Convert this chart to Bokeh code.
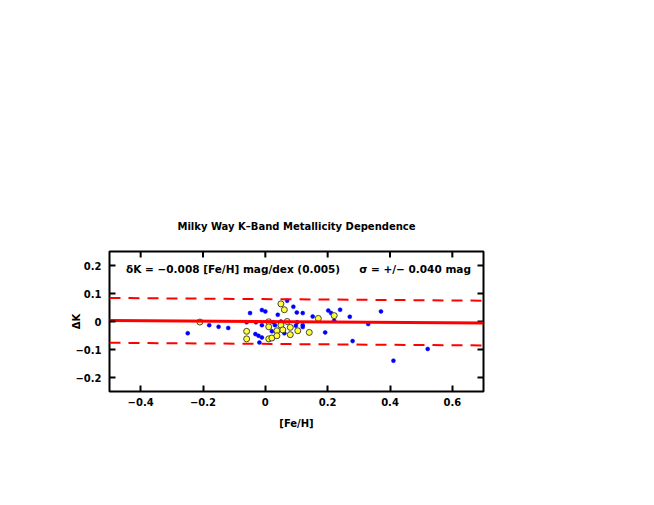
import numpy as np
from bokeh.plotting import figure
from bokeh.models import Range1d, FixedTicker, Label
from bokeh.embed import file_html
from bokeh.resources import INLINE

# ---- data ----
blue_feh = [-0.249, -0.180, -0.150, -0.119, -0.049, -0.011, 0.000, 0.040, 0.070, 0.090,
            0.101, 0.120, 0.152, 0.202, 0.211, 0.240, 0.271, 0.221, 0.330, 0.371,
            0.280, 0.192, 0.411, 0.521, -0.060, -0.011, 0.026, 0.031, 0.050, 0.098,
            0.120, 0.120, -0.032, -0.022, -0.011, 0.021, 0.082, 0.061, -0.019, 0.102,
            -0.030]
blue_dk = [-0.042, -0.013, -0.019, -0.023, 0.030, 0.041, 0.036, 0.024, 0.074, 0.053,
           0.032, 0.030, 0.018, 0.039, 0.030, 0.042, 0.017, 0.003, -0.009, 0.036,
           -0.070, -0.039, -0.140, -0.098, -0.003, -0.013, -0.003, -0.013, 0.000, -0.015,
           -0.013, -0.020, -0.045, -0.051, -0.057, -0.035, -0.045, -0.042, -0.075, -0.003,
           -0.003]

yellow_feh = [-0.210, 0.050, 0.061, 0.011, 0.011, 0.070, 0.050, 0.037, 0.056, 0.080,
              0.104, 0.141, 0.170, 0.221, -0.060, -0.060, 0.011, 0.021, 0.037, 0.080]
yellow_dk = [-0.002, 0.063, 0.042, -0.001, -0.019, 0.000, -0.013, -0.033, -0.030, -0.021,
             -0.033, -0.039, 0.011, 0.021, -0.035, -0.062, -0.062, -0.059, -0.051, -0.047]

slope = -0.008
intercept = 0.0
sigma = 0.040

x_ticks = [-0.4, -0.2, 0.0, 0.2, 0.4, 0.6]
x_tick_labels = ["\u22120.4", "\u22120.2", "0", "0.2", "0.4", "0.6"]
y_ticks = [-0.2, -0.1, 0.0, 0.1, 0.2]
y_tick_labels = ["\u22120.2", "\u22120.1", "0", "0.1", "0.2"]

title_text = "Milky Way K\u2013Band Metallicity Dependence"
fit_text = "\u03b4K = \u22120.008 [Fe/H] mag/dex  (0.005)"
sigma_text = "\u03c3 = +/\u2212 0.040 mag"
x_label = "[Fe/H]"
y_label = "\u0394K"

FONT = "DejaVu Sans"
FS = "10px"

p = figure(width=640, height=489,
           x_range=Range1d(-0.5, 0.7), y_range=Range1d(-0.25, 0.25),
           output_backend="svg", toolbar_location=None,
           min_border_left=109, min_border_right=157,
           min_border_top=251, min_border_bottom=98)
p.xgrid.visible = False
p.ygrid.visible = False
p.outline_line_color = "black"
p.outline_line_width = 2
p.outline_line_alpha = 1.0
p.background_fill_color = "white"
p.border_fill_color = "white"

p.title.text = title_text
p.title.align = "center"
p.title.text_font = FONT
p.title.text_font_size = FS
p.title.text_font_style = "bold"
p.title.text_color = "black"
p.title.standoff = 40

def style_axis(ax, ticks, labels, standoff):
    ax.ticker = FixedTicker(ticks=ticks)
    ax.major_label_overrides = {t: l for t, l in zip(ticks, labels)}
    ax.axis_line_color = None
    ax.major_tick_in = 6
    ax.major_tick_out = 0
    ax.major_tick_line_width = 2
    ax.major_tick_line_color = "black"
    ax.minor_tick_line_color = None
    ax.major_label_text_font = FONT
    ax.major_label_text_font_style = "bold"
    ax.major_label_text_font_size = FS
    ax.major_label_text_color = "black"
    ax.major_label_standoff = standoff
    ax.axis_label_text_font = FONT
    ax.axis_label_text_font_style = "bold"
    ax.axis_label_text_font_size = FS
    ax.axis_label_text_color = "black"

style_axis(p.xaxis[0], x_ticks, x_tick_labels, 6)
style_axis(p.yaxis[0], y_ticks, y_tick_labels, 8)
p.xaxis[0].axis_label = x_label
p.xaxis[0].axis_label_standoff = 9
p.yaxis[0].axis_label = y_label
p.yaxis[0].axis_label_standoff = -10

# mirrored inward ticks on the top and right edges
x0, x1 = p.x_range.start, p.x_range.end
y0, y1 = p.y_range.start, p.y_range.end
p.ray(x=x_ticks, y=[y1] * len(x_ticks), length=6, length_units="screen",
      angle=-np.pi / 2, line_color="black", line_width=2)
p.ray(x=[x1] * len(y_ticks), y=y_ticks, length=6, length_units="screen",
      angle=np.pi, line_color="black", line_width=2)

# points
p.scatter(blue_feh, blue_dk, size=4, fill_color="#0000ff", line_color="#0000ff", line_width=0.5)
p.scatter(yellow_feh, yellow_dk, size=6, fill_color="#ffff33", line_color="#444444", line_width=1)

# fit lines
x_fit = np.array([x0, x1])
y_fit = slope * x_fit + intercept
p.line(x_fit, y_fit, line_color="#ff0000", line_width=3)
p.line(x_fit, y_fit + 2 * sigma, line_color="#ff0000", line_width=2, line_dash="11 8")
p.line(x_fit, y_fit - 2 * sigma, line_color="#ff0000", line_width=2, line_dash="11 8")

def lab(x, y, text, align="left"):
    p.add_layout(Label(x=x, y=y, text=text, text_align=align, text_baseline="middle",
                       text_font=FONT, text_font_size="10.5px", text_font_style="bold",
                       text_color="black"))

lab(-0.447, 0.189, fit_text, "left")
lab(0.301, 0.189, sigma_text, "left")

open("out.html", "w").write(file_html(p, INLINE))
